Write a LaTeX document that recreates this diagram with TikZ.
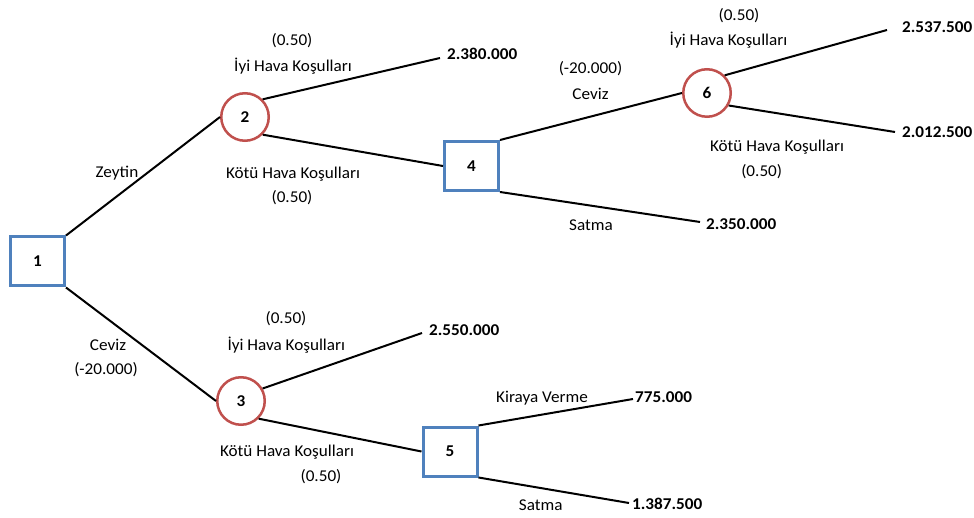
\documentclass[tikz,border=0pt]{standalone}
\usepackage{fontspec}
\setmainfont{Carlito}[FakeStretch=1.04]
\begin{document}
\begin{tikzpicture}[x=1pt,y=-1pt,
  every node/.style={font=\fontsize{16.5}{19}\selectfont},
  decision/.style={draw=boxblue, line width=3pt, fill=white, minimum width=54pt,
    minimum height=49pt, inner sep=0pt, font=\fontsize{16.5}{19}\selectfont\bfseries},
  chance/.style={draw=chancered, line width=2.5pt, fill=white, circle, minimum size=47.5pt,
    inner sep=0pt, font=\fontsize{16.5}{19}\selectfont\bfseries},
  payoff/.style={anchor=west, inner sep=0pt, font=\fontsize{16.5}{19}\selectfont\bfseries},
  lbl/.style={anchor=base, inner sep=0pt},
  branch/.style={line width=2pt, black}]
\definecolor{boxblue}{HTML}{4F81BD}
\definecolor{chancered}{HTML}{C0504D}
\useasboundingbox (0,0) rectangle (974,518);

% decision and chance nodes
\node[decision] (d1) at (37.5,261.5) {1};
\node[chance]   (c2) at (245,117) {2};
\node[chance]   (c3) at (241,401) {3};
\node[decision] (d4) at (471.5,166) {4};
\node[decision] (d5) at (450,451.5) {5};
\node[chance]   (c6) at (707,93) {6};

% payoffs
\node[payoff] (p1) at (447,53.5) {2.380.000};
\node[payoff] (p2) at (706,224) {2.350.000};
\node[payoff] (p3) at (902,27) {2.537.500};
\node[payoff] (p4) at (902,132) {2.012.500};
\node[payoff] (p5) at (429,330.5) {2.550.000};
\node[payoff] (p6) at (635,397.5) {775.000};
\node[payoff] (p7) at (632,503.5) {1.387.500};

% branches
\draw[branch] (d1.north east) -- (c2.west);
\draw[branch] (d1.south east) -- (c3.west);
\draw[branch] (c2.45) -- ([shift={(-7,4.5)}]p1.west);
\draw[branch] (c2.-45) -- (d4.west);
\draw[branch] (d4.north east) -- (c6.west);
\draw[branch] (d4.south east) -- ([shift={(-6,-2)}]p2.west);
\draw[branch] (c6.45) -- ([shift={(-15,3)}]p3.west);
\draw[branch] (c6.-30) -- ([shift={(-7,0)}]p4.west);
\draw[branch] (c3.30) -- ([shift={(-7,2.5)}]p5.west);
\draw[branch] (c3.-45) -- (d5.west);
\draw[branch] (d5.north east) -- ([shift={(-2,1.5)}]p6.west);
\draw[branch] (d5.south east) -- ([shift={(-3,-0.5)}]p7.west);

% branch labels
\node[lbl] (tz) at (117,178) {Zeytin};
\node[lbl] (tc1) at (108,350.7) {Ceviz};
\node[lbl] (tc1v) at (106,374.3) {(-20.000)};

\node[lbl] (t2a) at (292,46) {(0.50)};
\node[lbl] (t2b) at (293,72) {İyi Hava Koşulları};
\node[lbl] (t2c) at (293,179) {Kötü Hava Koşulları};
\node[lbl] (t2d) at (292,203) {(0.50)};

\node[lbl] (t4a) at (590.5,74) {(-20.000)};
\node[lbl] (t4b) at (590.5,99.3) {Ceviz};
\node[lbl] (t4c) at (591,231) {Satma};

\node[lbl] (t6a) at (739,21) {(0.50)};
\node[lbl] (t6b) at (728.5,46) {İyi Hava Koşulları};
\node[lbl] (t6c) at (777,151.7) {Kötü Hava Koşulları};
\node[lbl] (t6d) at (761.7,176.7) {(0.50)};

\node[lbl] (t3a) at (286,324) {(0.50)};
\node[lbl] (t3b) at (286.3,350.7) {İyi Hava Koşulları};
\node[lbl] (t3c) at (287,456) {Kötü Hava Koşulları};
\node[lbl] (t3d) at (321,481.7) {(0.50)};

\node[lbl] (t5a) at (542,402.7) {Kiraya Verme};
\node[lbl] (t5b) at (540.7,510.7) {Satma};
\end{tikzpicture}
\end{document}
